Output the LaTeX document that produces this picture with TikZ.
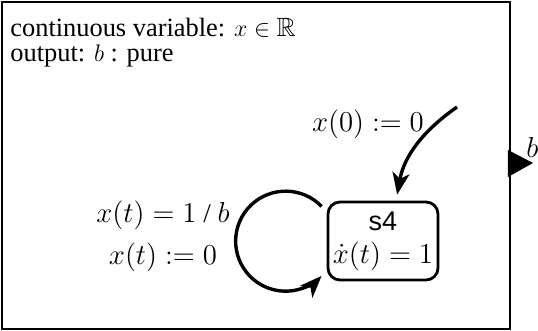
\documentclass[tikz,border=0pt]{standalone}
\usepackage{amssymb}
\usepackage{fontspec}
\setmainfont{Liberation Serif}
\setsansfont{Liberation Sans}
\usetikzlibrary{calc, arrows.meta}

\begin{document}
\begin{tikzpicture}[x=0.5pt, y=0.5pt, font=\fontsize{13.5}{16}\selectfont,
  edge/.style={line width=1.7pt, -{Stealth[length=11pt, width=8.5pt, inset=3pt]}},
  state/.style={draw, line width=1.4pt, rounded corners=6pt, align=center,
    minimum width=55pt, minimum height=39pt, inner sep=1pt}]
  \useasboundingbox (0,0) rectangle (538,-331);
  % actor box and output port
  \draw[line width=1pt] (2,-2) rectangle (510,-329);
  \coordinate (portA) at (508,-150);
  \coordinate (portB) at (508,-177);
  \coordinate (portTip) at (533,-163);
  \fill (portA) -- (portTip) -- (portB) -- cycle;
  \node[anchor=south west, inner sep=0pt] (outb) at (526,-158) {$b$};
  \node[anchor=base west, inner sep=0pt, font=\fontsize{13.2}{16}\selectfont] (decl1) at (10,-37)
    {continuous variable: $x \in \mathbb{R}$};
  \node[anchor=base west, inner sep=0pt, font=\fontsize{13.2}{16}\selectfont] (decl2) at (10,-62)
    {output: $b$ : pure};
  % state
  \node[state] (s4) at (383,-241) {\textsf{s4}\\[0.5pt]$\dot{x}(t) = 1$};
  % initial transition
  \coordinate (init) at (457,-107);
  \draw[edge, shorten >=3pt] (init) to[out=215, in=80] (s4.72);
  \node (initlbl) at (368,-124) {$x(0) := 0$};
  % self loop
  \coordinate (loopS) at ($(s4.150)+(-5,2)$);
  \draw[edge] (loopS) arc[start angle=44, end angle=316, radius=50];
  \node[align=center] (looplbl) at (163,-236) {$x(t) = 1$ / $b$\\[5pt]$x(t) := 0$};
\end{tikzpicture}
\end{document}
